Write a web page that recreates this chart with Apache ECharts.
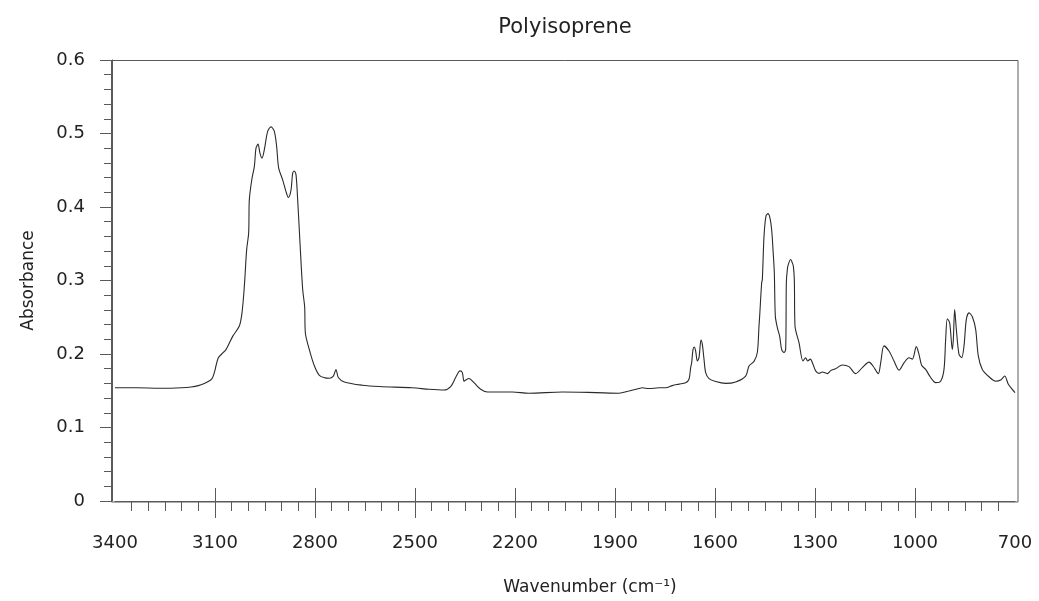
<!DOCTYPE html>
<html>
<head>
<meta charset="utf-8">
<script src="https://cdn.jsdelivr.net/npm/echarts@6/dist/echarts.min.js"></script>
<style>
  html, body { margin: 0; padding: 0; background: #fff; }
  #main { width: 1039px; height: 601px; }
</style>
</head>
<body>
<div id="main"></div>
<script>
// spectrum
var wavenumbers = [
  3400, 3333, 3280, 3232, 3200, 3172, 3150, 3132, 3115, 3107, 3100, 3097, 3090, 3080, 3067, 3047,
  3027, 3019, 3012, 3005, 2999, 2997, 2989, 2982, 2977, 2971, 2965, 2959, 2952, 2942, 2932, 2922,
  2915, 2909, 2897, 2887, 2880, 2872, 2867, 2862, 2857, 2852, 2845, 2837, 2831, 2829, 2817, 2802,
  2787, 2770, 2757, 2745, 2737, 2730, 2712, 2658, 2607, 2508, 2458, 2413, 2393, 2378, 2365, 2358,
  2353, 2348, 2338, 2323, 2303, 2283, 2208, 2158, 2058, 1958, 1888, 1858, 1828, 1818, 1798, 1768,
  1748, 1728, 1708, 1688, 1678, 1673, 1670, 1666, 1662, 1658, 1653, 1648, 1642, 1638, 1633, 1628,
  1618, 1598, 1568, 1538, 1508, 1498, 1483, 1473, 1468, 1466, 1460, 1458, 1453, 1447, 1441, 1435,
  1430, 1426, 1422, 1419, 1413, 1406, 1400, 1393, 1388, 1386, 1383, 1380, 1373, 1368, 1365, 1362,
  1360, 1348, 1336, 1328, 1322, 1314, 1306, 1298, 1288, 1278, 1263, 1253, 1238, 1218, 1198, 1178,
  1158, 1138, 1126, 1110, 1103, 1093, 1078, 1063, 1048, 1033, 1018, 1008, 996, 988, 980, 968,
  953, 938, 923, 913, 908, 903, 896, 888, 885, 881, 876, 868, 860, 853, 846, 838,
  828, 818, 810, 798, 778, 758, 743, 731, 720, 710, 700
];
var absorbance = [
  0.154, 0.154, 0.1535, 0.1534, 0.154, 0.1552, 0.157, 0.160, 0.164, 0.168, 0.178, 0.184, 0.195, 0.200, 0.206, 0.224,
  0.238, 0.256, 0.292, 0.342, 0.365, 0.41, 0.439, 0.455, 0.480, 0.4855, 0.473, 0.4665, 0.478, 0.503, 0.509, 0.503,
  0.482, 0.453, 0.437, 0.421, 0.413, 0.423, 0.446, 0.449, 0.444, 0.41, 0.351, 0.288, 0.264, 0.229, 0.206, 0.184,
  0.171, 0.1675, 0.167, 0.170, 0.179, 0.168, 0.162, 0.1575, 0.1557, 0.154, 0.152, 0.151, 0.1557, 0.168, 0.177, 0.1747,
  0.163, 0.1646, 0.1666, 0.161, 0.152, 0.1484, 0.1484, 0.1466, 0.1484, 0.1475, 0.1466, 0.1497, 0.153, 0.154, 0.153, 0.154,
  0.154, 0.157, 0.159, 0.161, 0.1656, 0.1815, 0.188, 0.206, 0.2095, 0.204, 0.1905, 0.195, 0.219, 0.213, 0.193, 0.1747,
  0.1666, 0.1625, 0.160, 0.162, 0.170, 0.1837, 0.190, 0.202, 0.238, 0.2515, 0.297, 0.301, 0.36, 0.388, 0.391, 0.385,
  0.369, 0.342, 0.31, 0.2515, 0.236, 0.224, 0.206, 0.202, 0.206, 0.297, 0.315, 0.322, 0.3285, 0.324, 0.3195, 0.301,
  0.238, 0.2154, 0.1905, 0.195, 0.1905, 0.193, 0.186, 0.177, 0.1737, 0.1755, 0.1733, 0.1774, 0.180, 0.185, 0.1828, 0.1733,
  0.1815, 0.189, 0.1837, 0.1733, 0.188, 0.211, 0.204, 0.1905, 0.178, 0.188, 0.195, 0.193, 0.210, 0.1995, 0.1846, 0.179,
  0.168, 0.161, 0.163, 0.179, 0.22, 0.248, 0.2425, 0.206, 0.22, 0.2606, 0.2335, 0.1995, 0.195, 0.211, 0.247, 0.256,
  0.2507, 0.2335, 0.197, 0.179, 0.169, 0.163, 0.1646, 0.170, 0.1588, 0.153, 0.1475
];
var xTicks = [3400, 3100, 2800, 2500, 2200, 1900, 1600, 1300, 1000, 700];

var chartDom = document.getElementById('main');
var myChart = echarts.init(chartDom);
var option;

var font = 'DejaVu Sans';
var axisColor = '#5a5a5a';
var textColor = '#222';

var minorTicks = [];
for (var v = 750; v < 3400; v += 50) {
  if (xTicks.indexOf(v) < 0) minorTicks.push(v);
}
var innerTicks = xTicks.filter(function (t) { return t !== 3400 && t !== 700; });

var points = wavenumbers.map(function (w, i) { return [w, absorbance[i]]; });

var xBase = {
  type: 'value', position: 'bottom', min: 700, max: 3400, inverse: true,
  splitLine: { show: false }
};

option = {
  animation: false,
  title: {
    text: 'Polyisoprene',
    left: 560,
    top: 12,
    textAlign: 'center',
    textStyle: { fontFamily: font, fontSize: 21, fontWeight: 'normal', color: textColor }
  },
  grid: { left: 115, right: 24, top: 60, bottom: 99 },
  graphic: [{
    type: 'rect',
    z: 0,
    shape: { x: 111.5, y: 60.5, width: 906.5, height: 441.5 },
    style: { fill: 'none', stroke: axisColor, lineWidth: 1 }
  }],
  xAxis: [
    Object.assign({}, xBase, {
      axisLine: { show: true, lineStyle: { color: axisColor } },
      axisTick: { show: true, customValues: innerTicks, length: 17, lineStyle: { color: axisColor } },
      axisLabel: {
        customValues: xTicks, margin: 33, color: textColor, fontFamily: font, fontSize: 18,
        formatter: function (val) { return String(val); }
      },
      name: 'Wavenumber (cm⁻¹)',
      nameLocation: 'middle',
      nameGap: 78,
      nameTextStyle: { fontFamily: font, fontSize: 17, color: textColor, padding: [0, 0, 0, 50] }
    }),
    Object.assign({}, xBase, {
      axisLine: { show: false },
      axisTick: { show: true, customValues: minorTicks, length: 10, lineStyle: { color: axisColor } },
      axisLabel: { show: false }
    }),
    Object.assign({}, xBase, {
      axisLine: { show: false },
      axisTick: { show: true, inside: true, customValues: innerTicks, length: 13, lineStyle: { color: axisColor } },
      axisLabel: { show: false }
    })
  ],
  yAxis: {
    type: 'value',
    min: 0,
    max: 0.6,
    interval: 0.1,
    offset: 3,
    splitLine: { show: false },
    axisLine: { show: true, lineStyle: { color: axisColor } },
    axisTick: { show: true, length: 12, lineStyle: { color: axisColor } },
    minorTick: { show: true, splitNumber: 5, length: 8, lineStyle: { color: axisColor } },
    axisLabel: { margin: 27, color: textColor, fontFamily: font, fontSize: 18 },
    name: 'Absorbance',
    nameLocation: 'middle',
    nameGap: 75,
    nameTextStyle: { fontFamily: font, fontSize: 17, color: textColor }
  },
  series: [
    {
      type: 'line',
      xAxisIndex: 0,
      data: points,
      showSymbol: false,
      smooth: 0.3,
      lineStyle: { color: '#2a2a2a', width: 1.1 },
      z: 3
    }
  ]
};

option && myChart.setOption(option);
</script>
</body>
</html>
